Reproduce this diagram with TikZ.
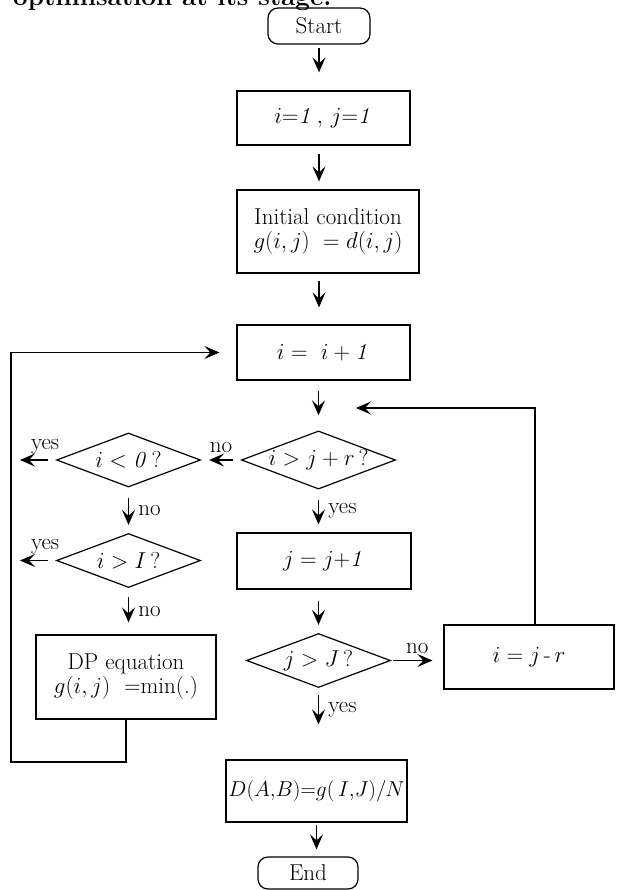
\documentclass[tikz,border=0pt]{standalone}
\usepackage{fix-cm}
\usetikzlibrary{shapes.geometric,arrows.meta}
\newcommand\chartfont{\fontsize{23}{27}\selectfont}

\begin{document}
\begin{tikzpicture}[x=1pt, y=-1pt, font=\chartfont,
  box/.style={draw, line width=1.2pt, align=center, inner sep=1pt},
  term/.style={draw, line width=1.2pt, rounded corners=10pt, inner sep=1pt},
  test/.style={draw, diamond, line width=1.2pt, aspect=2.65, inner sep=0pt,
    minimum width=144pt, minimum height=54pt},
  arr/.style={-{Stealth[length=15pt, width=13pt, inset=6pt]}, line width=1.7pt},
  lbl/.style={inner sep=1pt}]
  \useasboundingbox (0,0) rectangle (616,890);

  % Caption cut off at the top
  \node[anchor=base west, inner sep=0pt, font=\fontsize{26}{30}\selectfont\bfseries] (cap) at (13,6) {optimisation at its stage.};

  % Main column
  \node[term, minimum width=102pt, minimum height=36pt] (start) at (319,26) {Start};
  \node[box, minimum width=173pt, minimum height=54pt] (init1) at (323.5,118) {$i{=}\mathit{1}\,,\,j{=}\mathit{1}$};
  \node[box, minimum width=182pt, minimum height=83pt] (cond) at (328,231.5)
    {Initial condition\\[-3pt] $g(i,j)\ = d(i,j)$};
  \node[box, minimum width=173pt, minimum height=55pt] (inc) at (323.5,352.5) {$i =\ i + \mathit{1}$};
  \node[test] (dr) at (318.5,460) {$i > j + r\,?$};
  \node[box, minimum width=174pt, minimum height=56pt] (jinc) at (324,561) {$j = j{+}\mathit{1}$};
  \node[test] (dj) at (318.5,660.5) {$j > J\,?$};
  \node[box, minimum width=181pt, minimum height=62pt, font=\fontsize{21.5}{26}\selectfont] (res) at (316.5,791)
    {$D(A{,}B){=}g(\,I{,}J)/N$};
  \node[term, minimum width=100pt, minimum height=32pt] (stop) at (308,873) {End};

  % Left column
  \node[test] (dz) at (128.5,460) {$i < \mathit{0}\,?$};
  \node[test] (dI) at (128.5,560.5) {$i > I\,?$};
  \node[box, minimum width=180pt, minimum height=84pt] (dp) at (126,677)
    {DP equation\\[-3pt] $g(i,j)$\ \ =min(.)};

  % Right column
  \node[box, minimum width=170pt, minimum height=64pt] (reset) at (529,657) {$i = j\,\mbox{-}\,r$};

  % Free ends
  \coordinate (lp) at (11,762);
  \coordinate (back) at (356,408);
  \coordinate (outa) at (20,460);
  \coordinate (outb) at (20,560.5);

  % Straight arrows
  \draw[arr, shorten <=3pt, shorten >=18pt] (start.south) -- (start.south |- init1.north);
  \draw[arr, shorten <=8pt, shorten >=8pt] (start.south |- init1.south) -- (start.south |- cond.north);
  \draw[arr, shorten <=7pt, shorten >=17pt] (start.south |- cond.south) -- (start.south |- inc.north);
  \draw[arr, shorten <=10pt, shorten >=15pt] (inc.south -| dr.north) -- (dr.north);
  \draw[arr, shorten <=10pt, shorten >=8pt] (dr.south) -- (dr.south |- jinc.north)
    node[lbl, midway, right=8pt] (ly1) {yes};
  \draw[arr, shorten <=8pt, shorten >=8pt] (dr.west) -- (dz.east)
    node[lbl, midway, above=5pt] (ln1) {no};
  \draw[arr, shorten <=8pt] (dz.west) -- (outa)
    node[lbl, pos=0.3, above=4pt] (ly2) {yes};
  \draw[arr, shorten <=10pt, shorten >=8pt] (dz.south) -- (dI.north)
    node[lbl, midway, right=8pt] (ln2) {no};
  \draw[arr, shorten <=8pt] (dI.west) -- (outb)
    node[lbl, pos=0.3, above=4pt] (ly3) {yes};
  \draw[arr, shorten <=9pt, shorten >=12pt] (dI.south) -- (dI.south |- dp.north)
    node[lbl, midway, right=8pt] (ln3) {no};
  \draw[arr, shorten <=11pt, shorten >=8pt] (dj.north |- jinc.south) -- (dj.north);
  \draw[arr, shorten <=2pt, shorten >=11pt] (dj.east) -- (dj.east -| reset.west)
    node[lbl, midway, above=5pt] (ln4) {no};
  \draw[arr, shorten <=7pt, shorten >=35pt] (dj.south) -- (dj.south |- res.north)
    node[lbl, pos=0.3, right=8pt] (ly4) {yes};
  \draw[arr, shorten <=2pt, shorten >=7pt] (res.south) -- (res.south |- stop.north);

  % Loops back
  \draw[arr, line width=1.3pt, shorten >=17pt] (dp.south) |- (lp) |- (inc.west);
  \draw[arr, line width=1.3pt] ([xshift=6pt]reset.north) |- (back);
\end{tikzpicture}
\end{document}
